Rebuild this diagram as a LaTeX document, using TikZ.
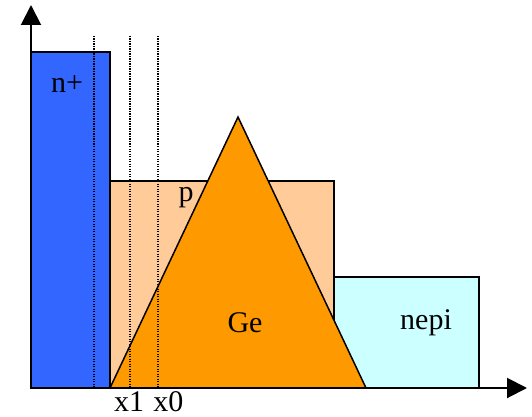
\documentclass[tikz,border=0pt]{standalone}
\usepackage{fontspec}
\setmainfont{Liberation Serif}
\usepackage{xcolor}
\usetikzlibrary{arrows.meta, positioning}
\definecolor{nplus}{HTML}{3366FF}
\definecolor{pzone}{HTML}{FFCC99}
\definecolor{nepizone}{HTML}{CCFFFF}
\definecolor{gezone}{HTML}{FF9900}

\begin{document}
\begin{tikzpicture}[x=1pt, y=-1pt, >={Triangle[length=20pt,width=20pt]},
    zone/.style={line width=1.5pt},
    lbl/.style={font=\fontsize{30}{36}\selectfont, inner sep=0pt}]
    \useasboundingbox (0,0) rectangle (532,417);

    % Cac vung pha tap
    \draw[zone, fill=pzone] (110,181) rectangle (334,388);
    \draw[zone, fill=nepizone] (334,277) rectangle (479,388);
    \draw[zone, fill=nplus] (31,52) rectangle (110,388);

    % Tam giac Ge
    \draw[zone, fill=gezone] (110,388) -- (238,117) -- (366,388) -- cycle;

    % Cac duong cham
    \foreach \xx in {94,130,158}
        \draw[dash pattern=on 1.2pt off 1.3pt, line width=1.2pt] (\xx,36) -- (\xx,388);

    % He truc
    \coordinate (O) at (31,388);
    \coordinate (xend) at (527,388);
    \coordinate (yend) at (31,5);
    \draw[->, line width=2pt] (O) -- (xend);
    \draw[->, line width=2pt] (O) -- (yend);

    % Nhan
    \node[lbl] (nlab) at (67,84) {n+};
    \node[lbl] (plab) at (186,198) {p};
    \node[lbl] (gelab) at (245,323) {Ge};
    \node[lbl] (nepilab) at (426,323) {nepi};
    \node[lbl, anchor=base] (xone) at (129,411) {x1};
    \node[lbl, right=9pt of xone.base east, anchor=base west] (xzero) {x0};
\end{tikzpicture}
\end{document}
